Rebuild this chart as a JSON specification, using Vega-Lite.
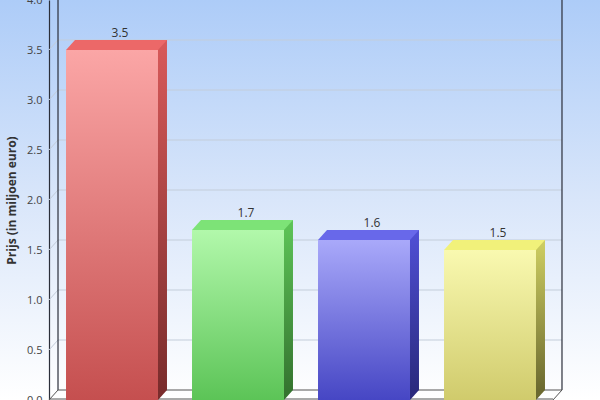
{
  "$schema": "https://vega.github.io/schema/vega-lite/v6.json",
  "width": 600,
  "height": 400,
  "autosize": "none",
  "padding": 0,
  "config": {
    "view": {"stroke": null, "fill": {"gradient": "linear", "x1": 0, "y1": 0, "x2": 0, "y2": 1, "stops": [{"offset": 0, "color": "#adccf8"}, {"offset": 0.5, "color": "#d9e6fa"}, {"offset": 1, "color": "#ffffff"}]}},
    "font": "Open Sans"
  },
  "datasets": {
    "bars": [
      {"cat": "A", "value": 3.5},
      {"cat": "B", "value": 1.7},
      {"cat": "C", "value": 1.6},
      {"cat": "D", "value": 1.5}
    ],
    "grid": [
      {"v": 0.5}, {"v": 1.0}, {"v": 1.5}, {"v": 2.0}, {"v": 2.5}, {"v": 3.0}, {"v": 3.5}, {"v": 4.0}
    ]
  },
  "layer": [
    {
      "data": {"name": "grid"},
      "mark": {"type": "rule", "color": "#c3cdda", "strokeWidth": 1, "xOffset": -8, "x2Offset": 26, "yOffset": -10},
      "encoding": {
        "x": {"datum": "A", "type": "nominal", "bandPosition": 0, "scale": {"domain": ["A", "B", "C", "D"], "range": [49, 553], "paddingInner": 0.27, "paddingOuter": 0.135}, "axis": null},
        "x2": {"datum": "D", "bandPosition": 1},
        "y": {"field": "v", "type": "quantitative", "scale": {"domain": [0, 4], "nice": false},
          "axis": {"title": "Prijs (in miljoen euro)", "offset": -49, "values": [0, 0.5, 1, 1.5, 2, 2.5, 3, 3.5, 4], "format": ".1f", "ticks": false, "labelPadding": 7, "labelFontSize": 11, "labelColor": "#444444", "labelFont": "Open Sans", "domainColor": "#2b2f3a", "domainWidth": 1.2, "grid": false, "titleFont": "Open Sans", "titleFontSize": 12, "titleFontWeight": "bold", "titleColor": "#333333", "titlePadding": 8}}
      }
    },
    {
      "data": {"name": "grid"},
      "mark": {"type": "rule", "color": "#c3cdda", "strokeWidth": 1, "xOffset": -17, "x2Offset": -8, "y2Offset": -10},
      "encoding": {
        "x": {"datum": "A", "type": "nominal", "bandPosition": 0},
        "x2": {"datum": "A", "bandPosition": 0},
        "y": {"field": "v", "type": "quantitative", "title": "Prijs (in miljoen euro)"},
        "y2": {"field": "v"}
      }
    },
    {
      "data": {"values": [{}]},
      "layer": [
        {
          "mark": {"type": "rule", "color": "#2b2f3a", "strokeWidth": 1.2, "xOffset": -8, "y2Offset": -10},
          "encoding": {"x": {"datum": "A", "type": "nominal", "bandPosition": 0}, "y": {"datum": 4, "type": "quantitative"}, "y2": {"datum": 0}}
        },
        {
          "mark": {"type": "rule", "color": "#2b2f3a", "strokeWidth": 1.2, "xOffset": 26, "y2Offset": -10},
          "encoding": {"x": {"datum": "D", "type": "nominal", "bandPosition": 1}, "y": {"datum": 4, "type": "quantitative"}, "y2": {"datum": 0}}
        },
        {
          "mark": {"type": "rule", "color": "#555555", "strokeWidth": 1, "xOffset": -8, "x2Offset": 26, "yOffset": -10},
          "encoding": {"x": {"datum": "A", "type": "nominal", "bandPosition": 0}, "x2": {"datum": "D", "bandPosition": 1}, "y": {"datum": 0, "type": "quantitative"}}
        },
        {
          "mark": {"type": "rule", "color": "#555555", "strokeWidth": 1, "xOffset": -17, "x2Offset": -8, "y2Offset": -10},
          "encoding": {"x": {"datum": "A", "type": "nominal", "bandPosition": 0}, "x2": {"datum": "A", "bandPosition": 0}, "y": {"datum": 0, "type": "quantitative"}, "y2": {"datum": 0}}
        },
        {
          "mark": {"type": "rule", "color": "#555555", "strokeWidth": 1, "xOffset": 17, "x2Offset": 26, "y2Offset": -10},
          "encoding": {"x": {"datum": "D", "type": "nominal", "bandPosition": 1}, "x2": {"datum": "D", "bandPosition": 1}, "y": {"datum": 0, "type": "quantitative"}, "y2": {"datum": 0}}
        },
        {
          "mark": {"type": "rule", "color": "#555555", "strokeWidth": 1, "xOffset": -17, "x2Offset": 17, "yOffset": -1},
          "encoding": {"x": {"datum": "A", "type": "nominal", "bandPosition": 0}, "x2": {"datum": "D", "bandPosition": 1}, "y": {"datum": 0, "type": "quantitative"}}
        }
      ]
    },
    {
      "data": {"name": "bars"},
      "transform": [{"filter": "datum.cat === 'A'"}],
      "layer": [
        {"mark": {"type": "bar", "xOffset": 9, "yOffset": -10, "y2Offset": -10, "fill": {"gradient": "linear", "x1": 0, "y1": 0, "x2": 0, "y2": 1, "stops": [{"offset": 0, "color": "#d85a5a"}, {"offset": 1, "color": "#7a2c2c"}]}},
         "encoding": {"x": {"field": "cat", "type": "nominal"}, "y": {"field": "value", "type": "quantitative", "title": "Prijs (in miljoen euro)"}, "y2": {"datum": 0}}},
        {"mark": {"type": "point", "filled": true, "opacity": 1, "size": 10000, "shape": "M0.92,0L1.1,-0.2L0.92,-0.2Z", "color": "#7a2c2c", "strokeWidth": 0},
         "encoding": {"x": {"field": "cat", "type": "nominal"}, "y": {"datum": 0, "type": "quantitative"}}},
        {"mark": {"type": "bar", "fill": {"gradient": "linear", "x1": 0, "y1": 0, "x2": 0, "y2": 1, "stops": [{"offset": 0, "color": "#fba6a6"}, {"offset": 1, "color": "#c54f4f"}]}},
         "encoding": {"x": {"field": "cat", "type": "nominal"}, "y": {"field": "value", "type": "quantitative"}, "y2": {"datum": 0}}},
        {"mark": {"type": "point", "filled": true, "opacity": 1, "size": 10000, "shape": "M-0.92,0L0.92,0L1.1,-0.2L-0.74,-0.2Z", "color": "#ec6868", "strokeWidth": 0},
         "encoding": {"x": {"field": "cat", "type": "nominal"}, "y": {"field": "value", "type": "quantitative"}}}
      ]
    },
    {
      "data": {"name": "bars"},
      "transform": [{"filter": "datum.cat === 'B'"}],
      "layer": [
        {"mark": {"type": "bar", "xOffset": 9, "yOffset": -10, "y2Offset": -10, "fill": {"gradient": "linear", "x1": 0, "y1": 0, "x2": 0, "y2": 1, "stops": [{"offset": 0, "color": "#5ec558"}, {"offset": 1, "color": "#357530"}]}},
         "encoding": {"x": {"field": "cat", "type": "nominal"}, "y": {"field": "value", "type": "quantitative"}, "y2": {"datum": 0}}},
        {"mark": {"type": "point", "filled": true, "opacity": 1, "size": 10000, "shape": "M0.92,0L1.1,-0.2L0.92,-0.2Z", "color": "#357530", "strokeWidth": 0},
         "encoding": {"x": {"field": "cat", "type": "nominal"}, "y": {"datum": 0, "type": "quantitative"}}},
        {"mark": {"type": "bar", "fill": {"gradient": "linear", "x1": 0, "y1": 0, "x2": 0, "y2": 1, "stops": [{"offset": 0, "color": "#b2f8ab"}, {"offset": 1, "color": "#5cc457"}]}},
         "encoding": {"x": {"field": "cat", "type": "nominal"}, "y": {"field": "value", "type": "quantitative"}, "y2": {"datum": 0}}},
        {"mark": {"type": "point", "filled": true, "opacity": 1, "size": 10000, "shape": "M-0.92,0L0.92,0L1.1,-0.2L-0.74,-0.2Z", "color": "#7de377", "strokeWidth": 0},
         "encoding": {"x": {"field": "cat", "type": "nominal"}, "y": {"field": "value", "type": "quantitative"}}}
      ]
    },
    {
      "data": {"name": "bars"},
      "transform": [{"filter": "datum.cat === 'C'"}],
      "layer": [
        {"mark": {"type": "bar", "xOffset": 9, "yOffset": -10, "y2Offset": -10, "fill": {"gradient": "linear", "x1": 0, "y1": 0, "x2": 0, "y2": 1, "stops": [{"offset": 0, "color": "#5050d6"}, {"offset": 1, "color": "#2a2a7e"}]}},
         "encoding": {"x": {"field": "cat", "type": "nominal"}, "y": {"field": "value", "type": "quantitative"}, "y2": {"datum": 0}}},
        {"mark": {"type": "point", "filled": true, "opacity": 1, "size": 10000, "shape": "M0.92,0L1.1,-0.2L0.92,-0.2Z", "color": "#2a2a7e", "strokeWidth": 0},
         "encoding": {"x": {"field": "cat", "type": "nominal"}, "y": {"datum": 0, "type": "quantitative"}}},
        {"mark": {"type": "bar", "fill": {"gradient": "linear", "x1": 0, "y1": 0, "x2": 0, "y2": 1, "stops": [{"offset": 0, "color": "#a9a9fa"}, {"offset": 1, "color": "#4646c4"}]}},
         "encoding": {"x": {"field": "cat", "type": "nominal"}, "y": {"field": "value", "type": "quantitative"}, "y2": {"datum": 0}}},
        {"mark": {"type": "point", "filled": true, "opacity": 1, "size": 10000, "shape": "M-0.92,0L0.92,0L1.1,-0.2L-0.74,-0.2Z", "color": "#6868ea", "strokeWidth": 0},
         "encoding": {"x": {"field": "cat", "type": "nominal"}, "y": {"field": "value", "type": "quantitative"}}}
      ]
    },
    {
      "data": {"name": "bars"},
      "transform": [{"filter": "datum.cat === 'D'"}],
      "layer": [
        {"mark": {"type": "bar", "xOffset": 9, "yOffset": -10, "y2Offset": -10, "fill": {"gradient": "linear", "x1": 0, "y1": 0, "x2": 0, "y2": 1, "stops": [{"offset": 0, "color": "#cfcf62"}, {"offset": 1, "color": "#6c6a30"}]}},
         "encoding": {"x": {"field": "cat", "type": "nominal"}, "y": {"field": "value", "type": "quantitative"}, "y2": {"datum": 0}}},
        {"mark": {"type": "point", "filled": true, "opacity": 1, "size": 10000, "shape": "M0.92,0L1.1,-0.2L0.92,-0.2Z", "color": "#6c6a30", "strokeWidth": 0},
         "encoding": {"x": {"field": "cat", "type": "nominal"}, "y": {"datum": 0, "type": "quantitative"}}},
        {"mark": {"type": "bar", "fill": {"gradient": "linear", "x1": 0, "y1": 0, "x2": 0, "y2": 1, "stops": [{"offset": 0, "color": "#f9f9b0"}, {"offset": 1, "color": "#d0cb6c"}]}},
         "encoding": {"x": {"field": "cat", "type": "nominal"}, "y": {"field": "value", "type": "quantitative"}, "y2": {"datum": 0}}},
        {"mark": {"type": "point", "filled": true, "opacity": 1, "size": 10000, "shape": "M-0.92,0L0.92,0L1.1,-0.2L-0.74,-0.2Z", "color": "#f1f17a", "strokeWidth": 0},
         "encoding": {"x": {"field": "cat", "type": "nominal"}, "y": {"field": "value", "type": "quantitative"}}}
      ]
    },
    {
      "data": {"name": "bars"},
      "mark": {"type": "text", "xOffset": 8, "yOffset": -13, "baseline": "alphabetic", "fontSize": 12, "color": "#333333", "font": "Open Sans"},
      "encoding": {
        "x": {"field": "cat", "type": "nominal"},
        "y": {"field": "value", "type": "quantitative"},
        "text": {"field": "value", "type": "quantitative", "format": ".1f"}
      }
    }
  ]
}
